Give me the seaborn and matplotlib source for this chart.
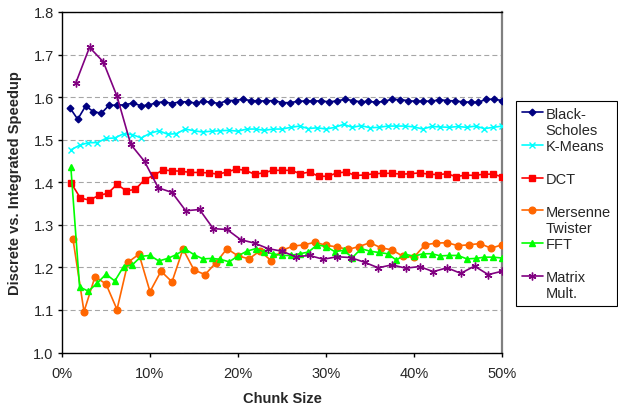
import numpy as np
import pandas as pd
import seaborn as sns
import matplotlib.pyplot as plt
from matplotlib.lines import Line2D
from matplotlib.ticker import PercentFormatter, MultipleLocator

# speedup values, one list per benchmark
black_scholes = [1.575, 1.548, 1.579, 1.566, 1.562, 1.581, 1.581, 1.582, 1.586, 1.580,
                 1.581, 1.587, 1.589, 1.585, 1.589, 1.589, 1.586, 1.590, 1.588, 1.585,
                 1.592, 1.592, 1.595, 1.592, 1.591, 1.591, 1.592, 1.587, 1.587, 1.590,
                 1.591, 1.591, 1.591, 1.589, 1.591, 1.595, 1.592, 1.589, 1.590, 1.588,
                 1.590, 1.595, 1.594, 1.592, 1.590, 1.591, 1.590, 1.594, 1.592, 1.591,
                 1.589, 1.588, 1.588, 1.595, 1.595, 1.592]
k_means = [1.476, 1.487, 1.493, 1.493, 1.503, 1.504, 1.514, 1.512, 1.504, 1.515,
           1.521, 1.513, 1.514, 1.525, 1.521, 1.518, 1.520, 1.521, 1.522, 1.520,
           1.525, 1.525, 1.522, 1.525, 1.525, 1.529, 1.532, 1.526, 1.528, 1.525,
           1.529, 1.536, 1.529, 1.533, 1.528, 1.529, 1.532, 1.532, 1.532, 1.530,
           1.525, 1.531, 1.530, 1.529, 1.531, 1.529, 1.532, 1.526, 1.529, 1.532]
dct = [1.398, 1.363, 1.358, 1.369, 1.374, 1.395, 1.380, 1.383, 1.406, 1.416,
       1.429, 1.427, 1.426, 1.423, 1.423, 1.422, 1.419, 1.424, 1.431, 1.428,
       1.419, 1.422, 1.428, 1.428, 1.428, 1.420, 1.424, 1.414, 1.414, 1.422,
       1.424, 1.416, 1.417, 1.420, 1.421, 1.421, 1.419, 1.420, 1.422, 1.419,
       1.418, 1.420, 1.413, 1.417, 1.416, 1.419, 1.419, 1.413]
mersenne = [1.266, 1.096, 1.178, 1.161, 1.101, 1.212, 1.231, 1.143, 1.191, 1.166,
            1.243, 1.194, 1.183, 1.211, 1.244, 1.227, 1.220, 1.239, 1.216, 1.240,
            1.250, 1.253, 1.259, 1.252, 1.248, 1.242, 1.249, 1.258, 1.246, 1.241,
            1.226, 1.224, 1.253, 1.257, 1.258, 1.251, 1.253, 1.256, 1.245, 1.253]
fft = [1.437, 1.154, 1.144, 1.163, 1.184, 1.168, 1.202, 1.206, 1.226, 1.228,
       1.215, 1.221, 1.230, 1.243, 1.230, 1.220, 1.221, 1.219, 1.213, 1.227,
       1.238, 1.244, 1.236, 1.232, 1.228, 1.228, 1.232, 1.236, 1.253, 1.249,
       1.237, 1.240, 1.223, 1.244, 1.238, 1.235, 1.232, 1.217, 1.231, 1.226,
       1.232, 1.232, 1.227, 1.228, 1.228, 1.220, 1.221, 1.224, 1.224, 1.222]
matrix = [1.633, 1.717, 1.683, 1.602, 1.489, 1.449, 1.387, 1.376, 1.333, 1.336,
          1.291, 1.289, 1.265, 1.257, 1.244, 1.238, 1.225, 1.228, 1.219, 1.225,
          1.223, 1.212, 1.199, 1.206, 1.198, 1.202, 1.190, 1.199, 1.186, 1.203,
          1.183, 1.191]

# each benchmark is split into this many units; chunk size = k / units
units = [112, 100, 96, 80, 100, 64]
names = ["Black-Scholes", "K-Means", "DCT", "Mersenne Twister", "FFT", "Matrix Mult."]
legend_rows = [("Black-", "Scholes"), ("K-Means", ""), ("DCT", ""),
               ("Mersenne", "Twister"), ("FFT", ""), ("Matrix", "Mult.")]
colors = ["#000080", "#00FFFF", "#FF0000", "#FF6600", "#00FF00", "#800080"]
markers = ["D", "x", "s", "o", "^", (6, 2, 0)]
msizes = [3.4, 4.8, 4.6, 4.8, 4.8, 5.6]
series = [black_scholes, k_means, dct, mersenne, fft, matrix]

sns.set_style("white")
plt.rcParams["font.family"] = ["Liberation Sans", "DejaVu Sans"]

fig = plt.figure(figsize=(6.18, 4.14), dpi=100)
ax = fig.add_axes([62 / 618, 1 - 353.5 / 414, 440 / 618, 340.5 / 414])

handles = []
for vals, n, name, c, m, ms in zip(series, units, names, colors, markers, msizes):
    df = pd.DataFrame({"chunk": np.arange(1, len(vals) + 1) / n, "speedup": vals})
    sns.lineplot(data=df, x="chunk", y="speedup", color=c, marker=m, markersize=ms,
                 markeredgecolor=c, markeredgewidth=1.0, linewidth=1.2, ax=ax,
                 legend=False, zorder=3)
    handles.append(ax.get_lines()[-1])

ax.set_xlim(0, 0.5)
ax.set_ylim(1.0, 1.8)
ax.xaxis.set_major_locator(MultipleLocator(0.1))
ax.xaxis.set_major_formatter(PercentFormatter(xmax=1, decimals=0))
ax.yaxis.set_major_locator(MultipleLocator(0.1))
ax.yaxis.set_major_formatter(lambda v, p: f"{v:.1f}")
ax.grid(axis="y", color="#A6A6A6", linestyle=(0, (4.5, 2.8)), linewidth=0.8)
ax.grid(axis="x", visible=False)
ax.tick_params(axis="both", direction="out", length=3, width=1, color="black",
               labelsize=10.5, bottom=True, left=True)
ax.tick_params(axis="x", pad=7)
ax.tick_params(axis="y", pad=3)

for s in ["top", "left", "bottom"]:
    ax.spines[s].set_color("black")
    ax.spines[s].set_linewidth(1.0)
ax.spines["right"].set_color("#808080")
ax.spines["right"].set_linewidth(1.6)

ax.set_xlabel("Chunk Size", fontsize=10.5, fontweight="bold", labelpad=8)
ax.set_ylabel("Discrete vs. Integrated Speedup", fontsize=10.5, fontweight="bold", labelpad=8)

# Excel-style legend: marker on the first line of each label
blank = Line2D([], [], color="none")
leg_handles, leg_labels = [], []
for h, (first, second) in zip(handles, legend_rows):
    leg_handles += [h, blank]
    leg_labels += [first, second]
leg = fig.legend(leg_handles, leg_labels, loc="upper left",
                 bbox_to_anchor=(515.7 / 618, 1 - 101.7 / 414), borderaxespad=0,
                 fontsize=10.5, labelspacing=0.16, borderpad=0.4, handlelength=1.5,
                 handletextpad=0.15, fancybox=False, framealpha=1, edgecolor="black")
leg.get_frame().set_linewidth(0.8)

fig.savefig("out.png", dpi=100)
